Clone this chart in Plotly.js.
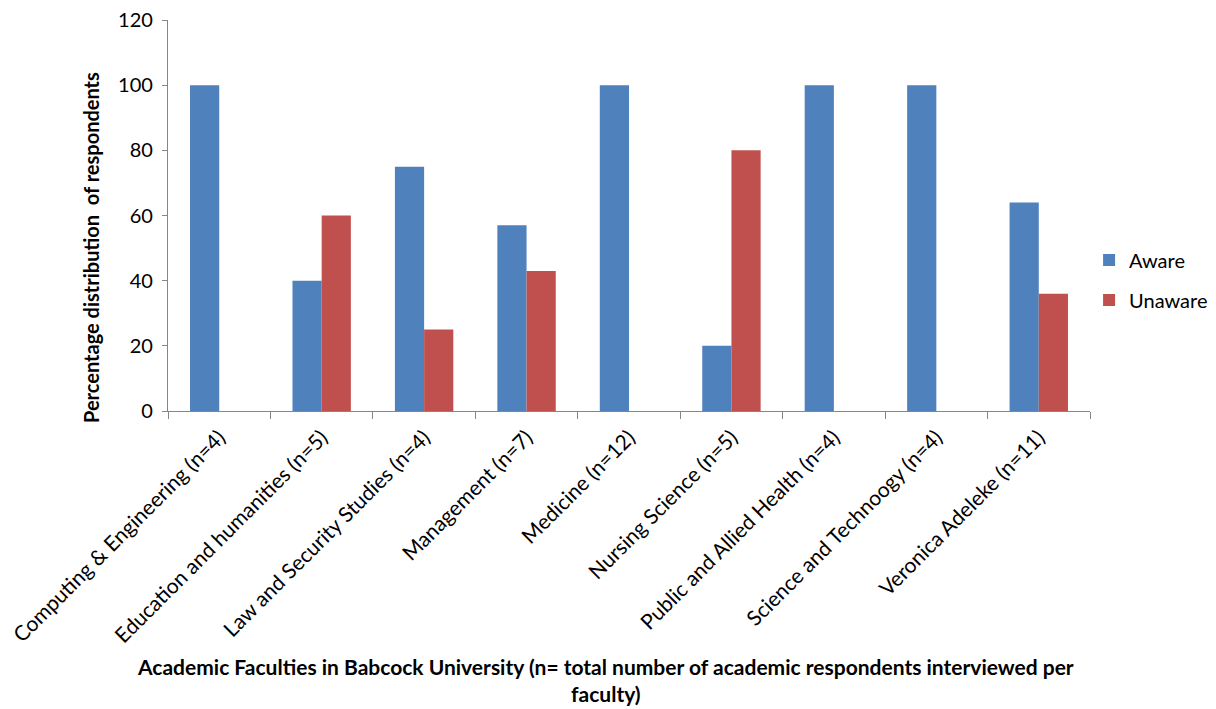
<!DOCTYPE html>
<html>
<head>
<meta charset="utf-8">
<script src="https://cdn.plot.ly/plotly-3.0.1.min.js"></script>
<style>
  html, body { margin: 0; padding: 0; background: #fff; }
  #chart { width: 1216px; height: 709px; }
</style>
</head>
<body>
<div id="chart"></div>
<script>
// Faculties surveyed and share of respondents aware / unaware (%)
const faculties = [
  "Computing & Engineering (n=4)",
  "Education and humanities (n=5)",
  "Law and Security Studies (n=4)",
  "Management (n=7)",
  "Medicine (n=12)",
  "Nursing Science (n=5)",
  "Public and Allied Health (n=4)",
  "Science and Technoogy (n=4)",
  "Veronica Adeleke (n=11)"
];
const aware   = [100, 40, 75, 57, 100, 20, 100, 100, 64];
const unaware = [0, 60, 25, 43, 0, 80, 0, 0, 36];

const FONT = "Lato, 'Open Sans', sans-serif";
const AXIS_GREY = "#868686";

const traces = [
  { type: "bar", name: "Aware", legendgroup: "a", x: faculties, y: aware,
    marker: { color: "#4F81BD" }, hoverinfo: "x+y+name" },
  { type: "bar", name: "Unaware", legendgroup: "u", x: faculties, y: unaware,
    marker: { color: "#C0504D" }, hoverinfo: "x+y+name" }
];

const layout = {
  width: 1216, height: 709,
  margin: { l: 168, r: 126, t: 20, b: 298, autoexpand: false },
  paper_bgcolor: "#fff", plot_bgcolor: "#fff",
  font: { family: FONT, size: 18, color: "#000" },
  barmode: "group",
  bargap: 0.43,
  bargroupgap: 0,
  showlegend: true,
  legend: {
    x: 0.999, xanchor: "left", y: 0.335, yanchor: "middle",
    font: { family: FONT, size: 20, color: "#000" },
    tracegroupgap: 11, itemwidth: 30, traceorder: "grouped"
  },
  xaxis: {
    type: "category",
    automargin: false,
    tickangle: -45,
    tickson: "boundaries",
    ticks: "outside", ticklen: 7, tickcolor: AXIS_GREY,
    showline: true, linecolor: AXIS_GREY, linewidth: 1,
    showgrid: false, zeroline: false,
    ticklabelstandoff: 5,
    tickfont: { family: FONT, size: 21, color: "#000" }
  },
  yaxis: {
    range: [0, 120], dtick: 20,
    automargin: false,
    ticks: "outside", ticklen: 5, tickcolor: AXIS_GREY,
    showline: true, linecolor: AXIS_GREY, linewidth: 1,
    showgrid: false, zeroline: false,
    tickfont: { family: FONT, size: 20, color: "#000" },
    ticksuffix: " "
  },
  annotations: [
    {
      text: "<b>Percentage distribution  of respondents</b>",
      xref: "paper", yref: "paper", x: -0.0835, y: 0.417,
      xanchor: "center", yanchor: "middle", textangle: -90,
      showarrow: false, font: { family: FONT, size: 20, color: "#000" }
    },
    {
      text: "<b>Academic Faculties in Babcock University (n= total number of academic respondents interviewed per<br>faculty)</b>",
      xref: "paper", yref: "paper", x: 0.4745, y: -0.688,
      xanchor: "center", yanchor: "middle",
      showarrow: false, align: "center",
      font: { family: FONT, size: 21, color: "#000" }
    }
  ]
};

Plotly.newPlot("chart", traces, layout, { displayModeBar: false, staticPlot: true });
</script>
</body>
</html>
